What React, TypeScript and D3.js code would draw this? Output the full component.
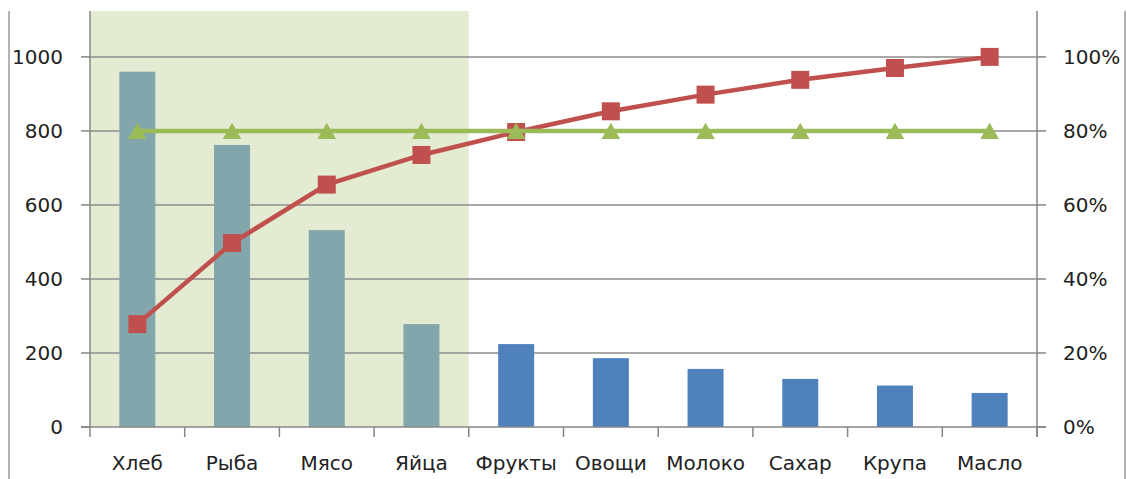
import * as d3 from "d3";

const categories = ["Хлеб", "Рыба", "Мясо", "Яйца", "Фрукты", "Овощи", "Молоко", "Сахар", "Крупа", "Масло"];
const amounts = [960, 762, 532, 278, 224, 186, 157, 130, 112, 92];
const cumulative = [0.278, 0.497, 0.655, 0.735, 0.797, 0.853, 0.898, 0.938, 0.97, 1.0];
const threshold = [0.8, 0.8, 0.8, 0.8, 0.8, 0.8, 0.8, 0.8, 0.8, 0.8];
const highlighted = ["Хлеб", "Рыба", "Мясо", "Яйца"];
const leftTicks = [0, 200, 400, 600, 800, 1000];
const rightTicks = [0, 0.2, 0.4, 0.6, 0.8, 1.0];

const W = 1127;
const H = 479;
const left = 90;
const right = 1037;
const top = 11;
const bottom = 427;

export default function App() {
  const x = d3.scaleBand<string>().domain(categories).range([left, right]);
  const y = d3.scaleLinear().domain([0, 1124]).range([bottom, top]);
  const y2 = d3.scaleLinear().domain([0, 1.124]).range([bottom, top]);
  const cx = (c: string) => (x(c) ?? 0) + x.bandwidth() / 2;
  const barW = x.bandwidth() * 0.38;

  const line = d3
    .line<number>()
    .x((_, i) => cx(categories[i]))
    .y((d) => y2(d));

  const shadeEnd = (x(highlighted[highlighted.length - 1]) ?? 0) + x.bandwidth();
  const font = "'DejaVu Sans', Verdana, sans-serif";
  const triSize = 150;
  const tri = d3.symbol().type(d3.symbolTriangle).size(triSize)();
  const triSide = Math.sqrt((triSize * 4) / Math.sqrt(3));
  const triH = (triSide * Math.sqrt(3)) / 2;
  const sq = 18;

  return (
    <svg width={W} height={H} style={{ position: "absolute", left: 0, top: 0, background: "#fff" }} fontFamily={font}>
      {/* outer frame */}
      <line x1={9} x2={9} y1={top} y2={H} stroke="#b3b3b3" strokeWidth={2} />
      <line x1={1125} x2={1125} y1={top} y2={H} stroke="#b3b3b3" strokeWidth={2} />

      {/* shaded area */}
      <rect x={left} y={top} width={shadeEnd - left} height={bottom - top} fill="#e3ebd2" />

      {/* grid */}
      {leftTicks.slice(1).map((t) => (
        <line key={t} x1={left} x2={right} y1={y(t)} y2={y(t)} stroke="#8c8c8c" strokeWidth={1.5} />
      ))}

      {/* bars */}
      {categories.map((c, i) => (
        <rect
          key={c}
          x={cx(c) - barW / 2}
          y={y(amounts[i])}
          width={barW}
          height={bottom - y(amounts[i])}
          fill={highlighted.includes(c) ? "#82a6ab" : "#4f81bd"}
        />
      ))}

      {/* axes */}
      <line x1={left} x2={left} y1={top} y2={bottom + 10} stroke="#868686" strokeWidth={1.5} />
      <line x1={right} x2={right} y1={top} y2={bottom + 10} stroke="#868686" strokeWidth={1.5} />
      <line x1={left - 9} x2={right + 9} y1={bottom} y2={bottom} stroke="#868686" strokeWidth={1.5} />
      {leftTicks.map((t) => (
        <g key={t}>
          <line x1={left - 9} x2={left} y1={y(t)} y2={y(t)} stroke="#868686" strokeWidth={1.5} />
          <text x={63} y={y(t)} dy="0.36em" textAnchor="end" fontSize={20} fill="#222">
            {t}
          </text>
        </g>
      ))}
      {rightTicks.map((t) => (
        <g key={t}>
          <line x1={right} x2={right + 9} y1={y2(t)} y2={y2(t)} stroke="#868686" strokeWidth={1.5} />
          <text x={1063} y={y2(t)} dy="0.36em" textAnchor="start" fontSize={20} fill="#222">
            {d3.format(".0%")(t)}
          </text>
        </g>
      ))}
      {categories.map((c) => (
        <g key={c}>
          <line x1={x(c)! + x.bandwidth()} x2={x(c)! + x.bandwidth()} y1={bottom} y2={bottom + 10} stroke="#868686" strokeWidth={1.5} />
          <text x={cx(c)} y={463} dy="0.36em" textAnchor="middle" fontSize={20} fill="#222">
            {c}
          </text>
        </g>
      ))}

      {/* cumulative line */}
      <path d={line(cumulative) ?? ""} fill="none" stroke="#c0504d" strokeWidth={4.5} />
      {cumulative.map((v, i) => (
        <rect key={i} x={cx(categories[i]) - sq / 2} y={y2(v) - sq / 2} width={sq} height={sq} fill="#c0504d" />
      ))}

      {/* 80% line */}
      <path d={line(threshold) ?? ""} fill="none" stroke="#9bbb59" strokeWidth={4.5} />
      {threshold.map((v, i) => (
        <path key={i} d={tri ?? ""} transform={`translate(${cx(categories[i])},${y2(v) + triH / 6})`} fill="#9bbb59" />
      ))}
    </svg>
  );
}
